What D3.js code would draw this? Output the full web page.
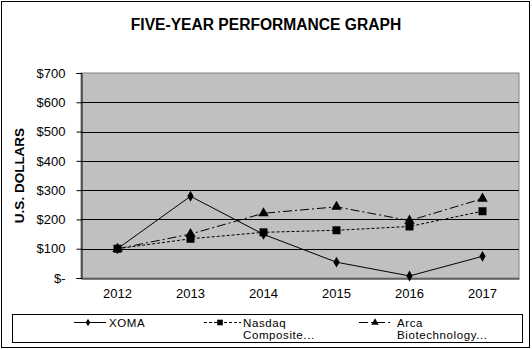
<!DOCTYPE html>
<html><head><meta charset="utf-8">
<script src="https://cdn.jsdelivr.net/npm/d3@7"></script>
<style>body{margin:0;background:#fff}svg{display:block;font-family:Arial,"Liberation Sans",sans-serif}</style>
</head><body><svg id="c" width="532" height="349"></svg>
<script>
const years = ["2012","2013","2014","2015","2016","2017"];
const xoma = [100, 279, 149, 54, 7, 74];
const nasdaq = [100, 134, 156, 163, 176, 228];
const arca = [100, 150, 221, 243, 196, 271];
const seriesNames = ["XOMA", "Nasdaq Composite...", "Arca Biotechnology..."];
const yTicks = [0,100,200,300,400,500,600,700];

const svg = d3.select("#c");
const m = {l:81, r:519, t:73, b:278};
const x = d3.scaleBand().domain(years).range([m.l, m.r]);
const y = d3.scaleLinear().domain([0,700]).range([m.b, m.t]);

// outer border
svg.append("rect").attr("x",1.5).attr("y",1.5).attr("width",528).attr("height",346)
  .attr("fill","#fff").attr("stroke","#000").attr("stroke-width",1);

// title
svg.append("text").attr("x",266).attr("y",29.5).attr("text-anchor","middle")
  .attr("font-weight","bold").attr("font-size",15.6).text("FIVE-YEAR PERFORMANCE GRAPH");

// plot area
svg.append("rect").attr("x",m.l).attr("y",m.t).attr("width",m.r-m.l).attr("height",m.b-m.t)
  .attr("fill","#c0c0c0").attr("stroke","#808080");

// gridlines
svg.append("g").selectAll("line").data(yTicks.filter(d=>d>0 && d<700)).join("line")
  .attr("x1",m.l).attr("x2",m.r).attr("y1",d=>Math.round(y(d))+0.5).attr("y2",d=>Math.round(y(d))+0.5)
  .attr("stroke","#000");

// y axis
const ya = svg.append("g").attr("transform",`translate(${m.l+0.5},0)`)
  .call(d3.axisLeft(y).tickValues(yTicks).tickSize(5).tickPadding(11)
    .tickFormat(d=> d===0 ? "$-" : "$"+d));
ya.select(".domain").attr("stroke","#000");
ya.selectAll("text").attr("font-size",13).attr("font-family","Arial,'Liberation Sans',sans-serif").attr("fill","#000");
ya.selectAll("line").attr("stroke","#000");

// x axis
const xa = svg.append("g").attr("transform",`translate(0,${m.b+0.5})`)
  .call(d3.axisBottom(x).tickSize(0).tickPadding(10));
xa.select(".domain").attr("stroke","#000");
xa.selectAll("text").attr("font-size",13).attr("font-family","Arial,'Liberation Sans',sans-serif").attr("fill","#000").attr("dy","0.71em");

// y label
svg.append("text").attr("transform","translate(23.5,175.5) rotate(-90)").attr("text-anchor","middle")
  .attr("font-weight","bold").attr("font-size",13.5).text("U.S. DOLLARS");

const line = d3.line().x((d,i)=>x(years[i])+x.bandwidth()/2).y(d=>y(d));
const styles = [
  {data:xoma, dash:null, marker:"diamond", size:34},
  {data:nasdaq, dash:"3,2", marker:"square", size:64},
  {data:arca, dash:"9,3,2,3", marker:"triangle", size:48}
];
const symMap = {diamond:d3.symbolDiamond, square:d3.symbolSquare, triangle:d3.symbolTriangle};

styles.forEach(s=>{
  svg.append("path").attr("d",line(s.data)).attr("fill","none").attr("stroke","#000")
    .attr("stroke-width",1).attr("stroke-dasharray",s.dash);
});
styles.forEach(s=>{
  svg.append("g").selectAll("path").data(s.data).join("path")
    .attr("transform",(d,i)=>`translate(${x(years[i])+x.bandwidth()/2},${y(d)})`)
    .attr("d",d3.symbol().type(symMap[s.marker]).size(s.size)).attr("fill","#000");
});

// legend
svg.append("rect").attr("x",12.5).attr("y",314.5).attr("width",510).attr("height",28)
  .attr("fill","#fff").attr("stroke","#000");
const leg = [
  {x1:74, x2:106, mx:88, tx:109, l1:"XOMA", l2:""},
  {x1:204, x2:241, mx:220, tx:243, l1:"Nasdaq", l2:"Composite..."},
  {x1:359, x2:393, mx:375, tx:397, l1:"Arca", l2:"Biotechnology..."}
];
leg.forEach((l,i)=>{
  const s = styles[i];
  svg.append("line").attr("x1",l.x1).attr("x2",l.x2).attr("y1",322.5).attr("y2",322.5)
    .attr("stroke","#000").attr("stroke-dasharray",s.dash);
  svg.append("path").attr("transform",`translate(${l.mx},322.5)`)
    .attr("d",d3.symbol().type(symMap[s.marker]).size(s.size*0.5)).attr("fill","#000");
  svg.append("text").attr("x",l.tx).attr("y",326.5).attr("font-size",11.5).attr("letter-spacing",0.6).text(l.l1);
  if(l.l2) svg.append("text").attr("x",l.tx).attr("y",338.5).attr("font-size",11.5).attr("letter-spacing",0.6).text(l.l2);
});
</script></body></html>
